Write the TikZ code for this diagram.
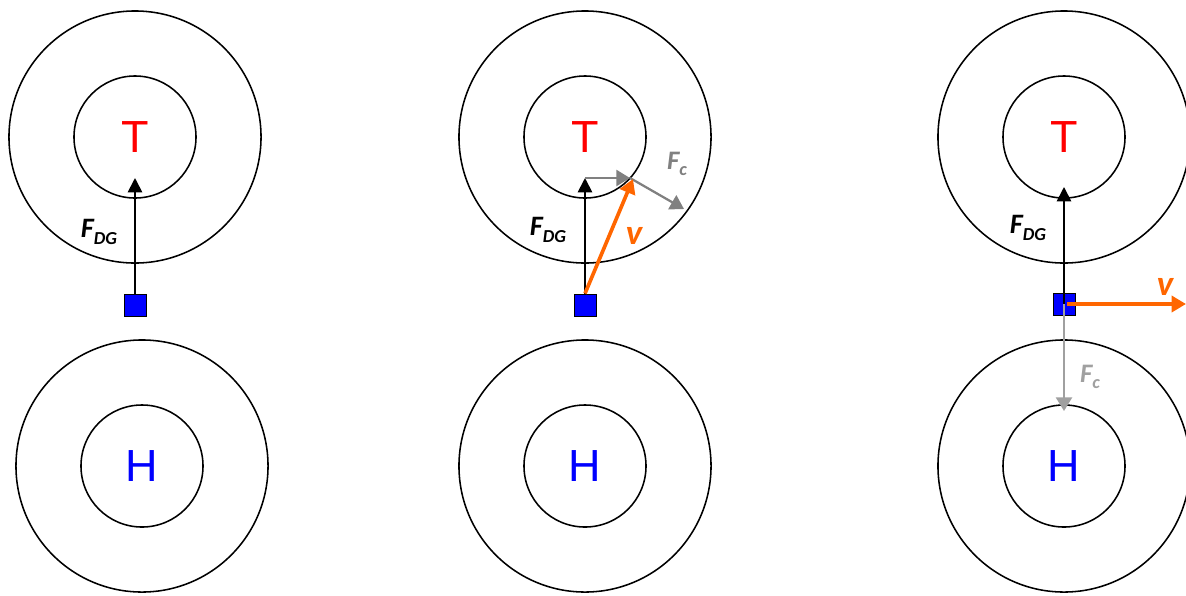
\documentclass[tikz,border=0pt]{standalone}
\usepackage{fontspec}
\setmainfont{Carlito}
\newfontfamily\arialfont{Liberation Sans}
\usetikzlibrary{arrows.meta}
\definecolor{vorange}{RGB}{255,102,0}
\definecolor{fcgray}{RGB}{128,128,128}
\definecolor{fclight}{RGB}{160,160,160}
\newcommand{\flabel}[2]{F\raisebox{-0.22em}{\fontsize{#2}{#2}\selectfont #1}}

\begin{document}
\begin{tikzpicture}[x=0.025cm, y=-0.025cm, outer/.style={circle, draw, line width=1.1pt, minimum size=6.3cm, inner sep=0pt}, inner/.style={circle, draw, line width=1.1pt, minimum size=3.05cm, inner sep=0pt, font=\arialfont\fontsize{32}{32}\selectfont}, mass/.style={draw, fill=blue, minimum size=0.55cm, inner sep=0pt, line width=0.7pt}, force/.style={-{Triangle[length=0.36cm, width=0.36cm]}, line width=1.3pt}, cforce/.style={-{Triangle[length=0.34cm, width=0.4cm]}, line width=1.6pt}, vel/.style={-{Triangle[length=0.36cm, width=0.4cm]}, draw=vorange, line width=2.6pt}, lab/.style={font=\fontsize{20}{20}\selectfont\bfseries\itshape, inner sep=0pt}, clab/.style={lab, font=\fontsize{19}{19}\selectfont\bfseries\itshape}, vlab/.style={lab, text=vorange, font=\fontsize{25}{25}\selectfont\bfseries\itshape}]
\useasboundingbox (0,0) rectangle (1186,595);
\node[outer] (outT1) at (135,137) {};
\node[inner, text=red] (T1) at (135,137) {T};
\node[outer] (outH1) at (142,466) {};
\node[inner, text=blue] (H1) at (142,466) {H};
\node[mass] (box1) at (135,305) {};
\coordinate (tip1) at (135,178);
\draw[force] (box1.north) -- (tip1);
\node[lab] (fdg1) at (99,232) {\flabel{DG}{13}};
\node[outer] (outT2) at (585,137) {};
\node[inner, text=red] (T2) at (585,137) {T};
\node[outer] (outH2) at (585,466) {};
\node[inner, text=blue] (H2) at (585,466) {H};
\node[mass] (box2) at (585,305) {};
\coordinate (tip2) at (585,178);
\coordinate (fc2a) at (630,178);
\coordinate (fc2b) at (684,209);
\coordinate (v2) at (633,179);
\draw[force] (box2.north) -- (tip2);
\draw[cforce, draw=fcgray] (tip2) -- (fc2a);
\draw[cforce, draw=fcgray] (fc2a) -- (fc2b);
\draw[vel] (box2.north) -- (v2);
\node[lab] (fdg2) at (548,230) {\flabel{DG}{13}};
\node[clab, text=fcgray] (fclab2) at (677,164) {\flabel{c}{13}};
\node[vlab] (vlab2) at (634,236) {v};
\node[outer] (outT3) at (1064,137) {};
\node[inner, text=red] (T3) at (1064,137) {T};
\node[outer] (outH3) at (1064,466) {};
\node[inner, text=blue] (H3) at (1064,466) {H};
\node[mass] (box3) at (1064,304) {};
\coordinate (tip3) at (1064,187);
\coordinate (fc3) at (1064,411);
\coordinate (v3) at (1186,304);
\draw[force] (box3.center) -- (tip3);
\draw[cforce, draw=fclight] (box3.center) -- (fc3);
\draw[vel] ([xshift=0.08cm]box3.center) -- (v3);
\node[lab] (fdg3) at (1028,228) {\flabel{DG}{13}};
\node[clab, text=fclight] (fclab3) at (1090,377) {\flabel{c}{13}};
\node[vlab] (vlab3) at (1165,287) {v};
\end{tikzpicture}
\end{document}
